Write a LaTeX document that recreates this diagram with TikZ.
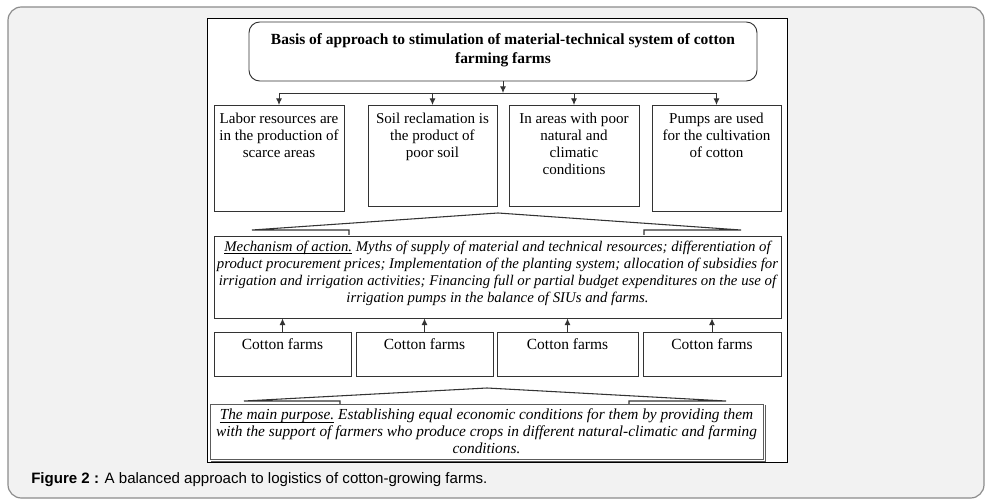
\documentclass[tikz,border=0pt]{standalone}
\usepackage{fontspec}
\setmainfont{Liberation Serif}
\setsansfont{Liberation Sans}
\usetikzlibrary{arrows.meta}

\definecolor{panelgray}{HTML}{F2F2F2}
\definecolor{panelline}{HTML}{8C8C8C}
\definecolor{boxline}{HTML}{333333}

% underlined lead-in of a paragraph
\newsavebox\ulbox
\newcommand{\ulword}[1]{\sbox\ulbox{#1}\rlap{\rule[-2.2pt]{\wd\ulbox}{0.5pt}}\usebox\ulbox}

\tikzset{
  box/.style={draw=boxline, line width=0.7pt, inner sep=0pt, fill=white},
  boxtext/.style={inner sep=0pt, align=center, font=\fontsize{11.3}{12.75}\selectfont},
  arr/.style={draw=boxline, line width=0.7pt, -{Latex[length=5pt,width=4.5pt]}},
  brace/.style={draw=boxline, line width=0.8pt, line join=miter}
}

\begin{document}
\begin{tikzpicture}[x=0.75pt,y=0.75pt,yscale=-1,xscale=1]
\useasboundingbox (0,0) rectangle (996,502);

%Shape: Panel
\draw[draw=panelline, fill=panelgray, line width=0.9pt, rounded corners=10] (8,7) rectangle (984,498);
%Shape: Frame
\draw[draw=black, fill=white, line width=0.6pt] (207,18) rectangle (787,462);

% Title
\node[box, rounded corners=8, minimum width=381pt, minimum height=44.25pt] (title) at (503,51.5) {};
\node[inner sep=0pt, align=center, font=\fontsize{11.6}{14}\selectfont\bfseries] (titletext) at (503,50.5) {Basis of approach to stimulation of material-technical system of cotton\\farming farms};

% Factor boxes
\node[box, anchor=north, minimum width=97.5pt, minimum height=79.5pt] (b1) at (279,105) {};
\node[box, anchor=north, minimum width=96.75pt, minimum height=75.75pt] (b2) at (432.5,105) {};
\node[box, anchor=north, minimum width=97.5pt, minimum height=75.75pt] (b3) at (574,105) {};
\node[box, anchor=north, minimum width=96.75pt, minimum height=79.5pt] (b4) at (716.5,105) {};
\node[boxtext, anchor=north] (t1) at (b1.north) [yshift=-6pt] {Labor resources are\\in the production of\\scarce areas};
\node[boxtext, anchor=north] (t2) at (b2.north) [yshift=-6pt] {Soil reclamation is\\the product of\\poor soil};
\node[boxtext, anchor=north] (t3) at (b3.north) [yshift=-6pt] {In areas with poor\\natural and\\climatic\\conditions};
\node[boxtext, anchor=north] (t4) at (b4.north) [yshift=-6pt] {Pumps are used\\for the cultivation\\of cotton};

%Straight Lines: bus
\coordinate (bus) at (503,93);
\draw[draw=boxline, line width=0.7pt] (bus -| b1.north) -- (bus -| b4.north);
\draw[arr] (title.south) -- (bus);
\foreach \b in {b1,b2,b3,b4}
  \draw[arr] (bus -| \b.north) -- (\b.north);

% Mechanism box
\node[box, minimum width=425.25pt, minimum height=61.5pt] (mech) at (497.5,277) {};
\node[inner sep=0pt, align=center, anchor=north, font=\fontsize{11.1}{12.75}\selectfont\itshape] (mechtext) at (497.5,240.5) {\ulword{Mechanism of action.} Myths of supply of material and technical resources; differentiation of\\product procurement prices; Implementation of the planting system; allocation of subsidies for\\irrigation and irrigation activities; Financing full or partial budget expenditures on the use of\\irrigation pumps in the balance of SIUs and farms.};

%Shape: Brace
\draw[brace] (349,235) -- (349,230) -- (252,230) -- (498,213) -- (741,230) -- (644,230) -- (644,235);

% Cotton farms
\node[box, anchor=north, minimum width=102.75pt, minimum height=33pt] (c1) at (282.5,332) {};
\node[box, anchor=north, minimum width=102.75pt, minimum height=33pt] (c2) at (424.5,332) {};
\node[box, anchor=north, minimum width=105.75pt, minimum height=33pt] (c3) at (567.5,332) {};
\node[box, anchor=north, minimum width=103.5pt, minimum height=33pt] (c4) at (712,332) {};
\foreach \c in {c1,c2,c3,c4}{
  \node[boxtext, anchor=north, font=\fontsize{11.6}{13}\selectfont] (\c text) at (\c.north) [yshift=-4.5pt] {Cotton farms};
  \draw[arr] (\c.north) -- (\c.north |- mech.south);
}

%Shape: Brace
\draw[brace] (340,404) -- (340,401) -- (244,401) -- (487,388) -- (726,401) -- (629,401) -- (629,404);

% Main purpose
\draw[draw=boxline!80, line width=0.6pt] (211,461) -- (765,461) -- (765,405);
\node[box, draw=boxline!80, minimum width=414.75pt, minimum height=41.25pt] (goal) at (486.5,431.5) {};
\node[inner sep=0pt, align=center, font=\fontsize{11.5}{12.75}\selectfont\itshape] (goaltext) at (486.5,431) {\ulword{The main purpose.} Establishing equal economic conditions for them by providing them\\with the support of farmers who produce crops in different natural-climatic and farming\\conditions.};

% Caption
\node[anchor=west, inner sep=0pt, font=\sffamily\fontsize{11.3}{13}\selectfont] (caption) at (31,480) {\textbf{Figure 2 :} A balanced approach to logistics of cotton-growing farms.};

\end{tikzpicture}
\end{document}
